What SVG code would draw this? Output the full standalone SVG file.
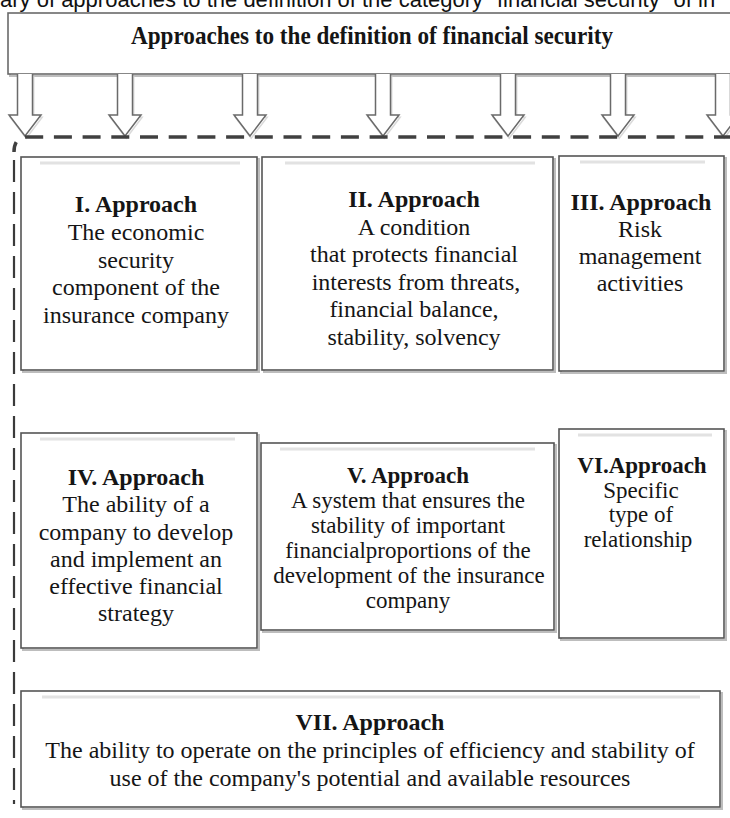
<svg xmlns="http://www.w3.org/2000/svg" width="730" height="818" viewBox="0 0 730 818">
<style>
  .cap { font-family: "Liberation Sans", Arial, sans-serif; font-size: 22px; fill: #111; }
  .t { font-family: "Liberation Serif", "Times New Roman", serif; font-size: 24px; fill: #151515; text-anchor: middle; }
  .s { font-size: 23px; }
  .b { font-weight: bold; }
  .box { fill: #fff; stroke: #555; stroke-width: 1.6; }
  .shadow { fill: none; stroke: #bdbdbd; stroke-width: 2; }
  .band { stroke: #e2e2e2; stroke-width: 3; }
  .arr { fill: #fff; stroke: #6a6a6a; stroke-width: 1.5; stroke-linejoin: miter; }
  .arrsh { fill: none; stroke: #dadada; stroke-width: 1.5; }
  .dashH { fill: none; stroke: #404040; stroke-width: 3.5; stroke-dasharray: 18 10.7; }
  .dashV { fill: none; stroke: #3a3a3a; stroke-width: 2.2; stroke-dasharray: 22 10; }
</style>
<defs>
  <path id="arrow" d="M -7.5 0 V 41 H -16 L 0 62 L 16 41 H 7.5 V 0"/>
</defs>

<text class="cap" x="0" y="7">ary of approaches to the definition of the category "financial security" of in</text>

<g id="title">
  <rect class="shadow" x="10" y="15" width="740" height="61"/>
  <rect class="box" x="8" y="13" width="740" height="61" style="stroke:#6a6a6a"/>
  <text class="t b" x="372" y="44" style="font-size:25px" textLength="482" lengthAdjust="spacingAndGlyphs">Approaches to the definition of financial security</text>
</g>

<g id="connectors">
  <g transform="translate(1.2,1.2)" class="arrsh">
    <use href="#arrow" x="25" y="75"/>
    <use href="#arrow" x="125" y="75"/>
    <use href="#arrow" x="250" y="75"/>
    <use href="#arrow" x="383" y="75"/>
    <use href="#arrow" x="508" y="75"/>
    <use href="#arrow" x="618" y="75"/>
    <use href="#arrow" x="723" y="75"/>
  </g>
  <g class="arr">
    <use href="#arrow" x="25" y="74"/>
    <use href="#arrow" x="125" y="74"/>
    <use href="#arrow" x="250" y="74"/>
    <use href="#arrow" x="383" y="74"/>
    <use href="#arrow" x="508" y="74"/>
    <use href="#arrow" x="618" y="74"/>
    <use href="#arrow" x="723" y="74"/>
  </g>
  <path class="dashH" d="M 732 137 H 27 Q 14 137 14 152"/>
  <path class="dashV" d="M 14 160 V 804"/>
</g>

<g id="approach1">
  <rect class="shadow" x="23" y="159" width="236" height="213"/>
  <rect class="box" x="21" y="157" width="236" height="213"/>
  <line class="band" x1="40" y1="163" x2="240" y2="163"/>
  <text class="t b" x="136" y="212">I. Approach</text>
  <text class="t" x="136" y="240">The economic</text>
  <text class="t" x="136" y="268">security</text>
  <text class="t" x="136" y="295">component of the</text>
  <text class="t" x="136" y="323">insurance company</text>
</g>

<g id="approach2">
  <rect class="shadow" x="264" y="159" width="291" height="213"/>
  <rect class="box" x="262" y="157" width="291" height="213"/>
  <line class="band" x1="285" y1="163" x2="535" y2="163"/>
  <text class="t b" x="414" y="207">II. Approach</text>
  <text class="t" x="414" y="235">A condition</text>
  <text class="t" x="414" y="262">that protects financial</text>
  <text class="t" x="416" y="290">interests from threats,</text>
  <text class="t" x="414" y="317">financial balance,</text>
  <text class="t" x="414" y="345">stability, solvency</text>
</g>

<g id="approach3">
  <rect class="shadow" x="561" y="158" width="165" height="215"/>
  <rect class="box" x="559" y="156" width="165" height="215"/>
  <line class="band" x1="580" y1="162" x2="705" y2="162"/>
  <text class="t b" x="641" y="210">III. Approach</text>
  <text class="t" x="640" y="237">Risk</text>
  <text class="t" x="640" y="264">management</text>
  <text class="t" x="640" y="291">activities</text>
</g>

<g id="approach4">
  <rect class="shadow" x="23" y="435" width="236" height="215"/>
  <rect class="box" x="21" y="433" width="236" height="215"/>
  <line class="band" x1="40" y1="439" x2="235" y2="439"/>
  <text class="t b" x="136" y="485">IV. Approach</text>
  <text class="t" x="136" y="512">The ability of a</text>
  <text class="t" x="136" y="539.5">company to develop</text>
  <text class="t" x="136" y="566.5">and implement an</text>
  <text class="t" x="136" y="594">effective financial</text>
  <text class="t" x="136" y="621">strategy</text>
</g>

<g id="approach5">
  <rect class="shadow" x="263" y="445" width="293" height="187"/>
  <rect class="box" x="261" y="443" width="293" height="187"/>
  <line class="band" x1="280" y1="449" x2="535" y2="449"/>
  <text class="t s b" x="408" y="483">V. Approach</text>
  <text class="t s" x="408" y="507.5">A system that ensures the</text>
  <text class="t s" x="408" y="532.5">stability of important</text>
  <text class="t s" x="408" y="557.5">financialproportions of the</text>
  <text class="t s" x="409" y="582.5">development of the insurance</text>
  <text class="t s" x="408" y="607.5">company</text>
</g>

<g id="approach6">
  <rect class="shadow" x="561" y="431" width="165" height="209"/>
  <rect class="box" x="559" y="429" width="165" height="209"/>
  <line class="band" x1="578" y1="435" x2="712" y2="435"/>
  <text class="t s b" x="642" y="473">VI.Approach</text>
  <text class="t s" x="641" y="497.5">Specific</text>
  <text class="t s" x="641" y="522">type of</text>
  <text class="t s" x="638" y="546.5">relationship</text>
</g>

<g id="approach7">
  <rect class="shadow" x="23" y="693" width="699" height="116"/>
  <rect class="box" x="21" y="691" width="699" height="116"/>
  <line class="band" x1="42" y1="697" x2="700" y2="697"/>
  <text class="t b" x="370" y="730">VII. Approach</text>
  <text class="t" x="370" y="758">The ability to operate on the principles of efficiency and stability of</text>
  <text class="t" x="370" y="786">use of the company's potential and available resources</text>
</g>
</svg>
